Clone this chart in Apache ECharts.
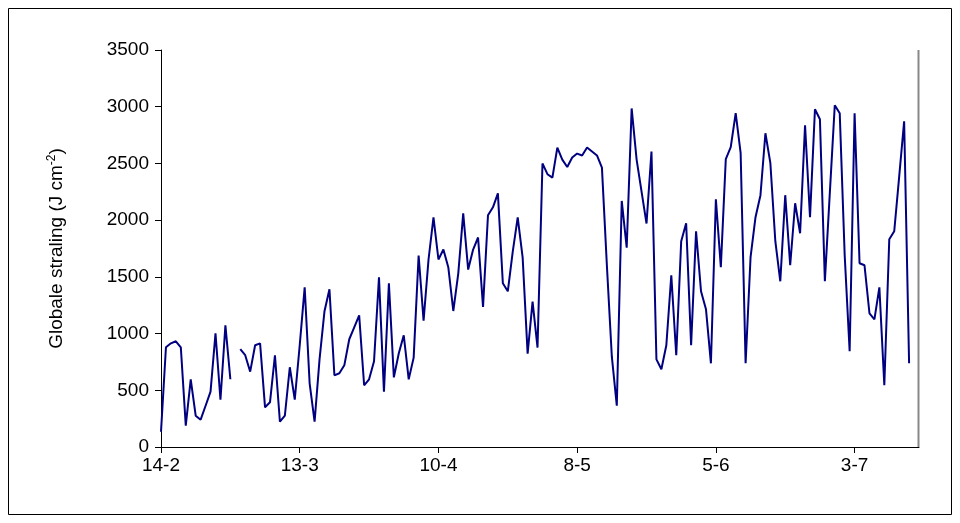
<!DOCTYPE html>
<html>
<head>
<meta charset="utf-8">
<script src="https://cdn.jsdelivr.net/npm/echarts@6/dist/echarts.min.js"></script>
<style>html,body{margin:0;padding:0;background:#fff}#main{width:960px;height:523px}</style>
</head>
<body>
<div id="main"></div>
<script>
// daily values from 14-2 (2008, leap year)
var startDate = [2008, 1, 14];
var straling = [
  135, 879, 914, 932, 879, 188, 597, 276, 241, 364,
  488, 1003, 417, 1073, 597, null, 862, 809, 664, 897,
  914, 350, 394, 809, 223, 276, 703, 417, 897, 1408,
  562, 223, 773, 1197, 1390, 632, 650, 720, 950, 1055,
  1161, 544, 597, 756, 1496, 488, 1443, 614, 826, 985,
  597, 788, 1688, 1114, 1653, 2025, 1653, 1741, 1582, 1199,
  1529, 2060, 1564, 1741, 1847, 1235, 2043, 2113, 2236, 1444,
  1373, 1723, 2025, 1670, 823, 1282, 876, 2500, 2405, 2375,
  2640, 2534, 2469, 2552, 2587, 2570, 2640, 2605, 2570, 2463,
  1600, 796, 364, 2169, 1758, 2985, 2534, 2252, 1970, 2605,
  773, 685, 897, 1514, 809, 1814, 1973, 897, 1902, 1373,
  1215, 738, 2184, 1585, 2537, 2643, 2943, 2590, 738, 1673,
  2026, 2220, 2766, 2502, 1814, 1461, 2220, 1602, 2149, 1884,
  2837, 2026, 2978, 2890, 1461, 2240, 3013, 2943, 1690, 844,
  2943, 1620, 1602, 1179, 1126, 1408, 544, 1832, 1902, 2384,
  2872, 738, null, null
];

var dagen = [];
for (var i = 0; i < straling.length; i++) {
    var d = new Date(startDate[0], startDate[1], startDate[2] + i);
    dagen.push(d.getDate() + '-' + (d.getMonth() + 1));
}

var myChart = echarts.init(document.getElementById('main'));
var option = {
    animation: false,
    textStyle: { fontFamily: 'Liberation Sans' },
    graphic: [{
        type: 'rect', shape: { x: 8.5, y: 8.5, width: 943, height: 506 },
        style: { fill: 'none', stroke: '#000', lineWidth: 1 }
    }, {
        type: 'line', shape: { x1: 918.5, y1: 50, x2: 918.5, y2: 447 },
        style: { stroke: '#888', lineWidth: 2 }
    }],
    grid: { left: 161, right: 41, top: 50, bottom: 76 },
    xAxis: {
        type: 'category',
        data: dagen,
        boundaryGap: false,
        axisLine: { lineStyle: { color: '#000', width: 1 } },
        axisTick: { interval: 27, length: 6, lineStyle: { color: '#000' } },
        axisLabel: { interval: 27, color: '#000', fontSize: 19, margin: 9 }
    },
    yAxis: {
        type: 'value',
        min: 0, max: 3500, interval: 500,
        name: '{a|Globale straling (J cm}{s|-2}{a|)}',
        nameLocation: 'middle',
        nameGap: 94,
        nameTextStyle: {
            rich: {
                a: { fontSize: 19, color: '#000', fontFamily: 'Liberation Sans' },
                s: { fontSize: 12, color: '#000', fontFamily: 'Liberation Sans', verticalAlign: 'top', padding: [0, 0, 9, 0] }
            }
        },
        splitLine: { show: false },
        axisLine: { show: true, lineStyle: { color: '#000' } },
        axisTick: { show: true, length: 6, lineStyle: { color: '#000' } },
        axisLabel: { color: '#000', fontSize: 19, margin: 12, formatter: function (v) { return String(v); } }
    },
    series: [{
        type: 'line',
        data: straling,
        symbol: 'none',
        connectNulls: false,
        lineStyle: { color: '#000080', width: 2 }
    }]
};
myChart.setOption(option);
</script>
</body>
</html>
